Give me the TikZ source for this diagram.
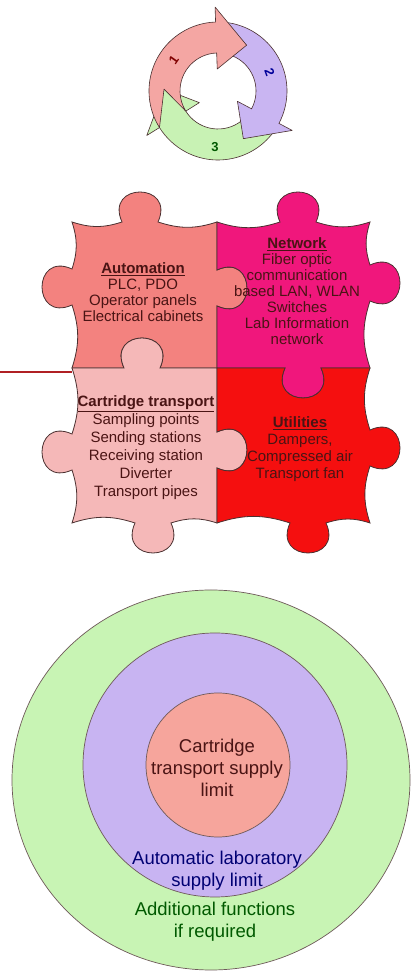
\documentclass[tikz,border=0pt]{standalone}
\usepackage{fontspec}
\setmainfont{Liberation Sans}
\definecolor{cyred}{HTML}{F4A6A3}
\definecolor{cypur}{HTML}{C9B5F2}
\definecolor{cygrn}{HTML}{C8F2B4}
\definecolor{pzsal}{HTML}{F3827F}
\definecolor{pzmag}{HTML}{F0177C}
\definecolor{pzpink}{HTML}{F5B8B8}
\definecolor{pzred}{HTML}{F50F0F}
\definecolor{cgreen}{HTML}{C8F4B4}
\definecolor{cpurple}{HTML}{C8B4F2}
\definecolor{csalmon}{HTML}{F6A59C}
\definecolor{edgec}{HTML}{4A3030}
\definecolor{ptxt}{HTML}{4A1414}
\definecolor{linered}{HTML}{B02024}
\begin{document}
\begin{tikzpicture}[x=1pt,y=1pt,
  cyc/.style={draw=edgec, line width=0.6pt, line join=round},
  piece/.style={draw=edgec, line width=0.8pt, line join=miter},
  ring/.style={draw=edgec!80, line width=0.7pt},
  ptext/.style={align=center, text=ptxt, font=\fontsize{15}{16}\selectfont, inner sep=0pt},
  ctext/.style={align=center, font=\fontsize{18.5}{22}\selectfont, inner sep=0pt},
  numlab/.style={font=\fontsize{13}{13}\selectfont\bfseries, inner sep=0pt}]
\useasboundingbox[fill=white] (0,0) rectangle (412,973);

% ---------- cycle ----------
\begin{scope}[shift={(218,882)}]
\draw[cyc, fill=cygrn] (332:69) arc[start angle=332, end angle=212, radius=69] -- (212:84) -- (178:54) -- (212:22) -- (212:38) arc[start angle=212, end angle=332, radius=38] -- (298:54) -- cycle;
\draw[cyc, fill=cypur] (92:69) arc[start angle=92, end angle=-28, radius=69] -- (-28:84) -- (-62:54) -- (-28:22) -- (-28:38) arc[start angle=-28, end angle=92, radius=38] -- (58:54) -- cycle;
\draw[cyc, fill=cyred] (212:69) arc[start angle=212, end angle=92, radius=69] -- (92:84) -- (58:54) -- (92:22) -- (92:38) arc[start angle=92, end angle=212, radius=38] -- (178:54) -- cycle;
\node[numlab, text=red!50!black, rotate=55] (n1) at (145:54) {1};
\node[numlab, text=blue!60!black, rotate=-70] (n2) at (20:55) {2};
\node[numlab, text=green!35!black] (n3) at (267:56) {3};
\end{scope}

% ---------- puzzle ----------
\draw[piece, fill=pzsal] (72,751) to[bend right=18] (122,751) .. controls (104,791) and (176,791) .. (158,751) to[bend right=18] (217,751) -- (217,703) .. controls (257,721) and (257,649) .. (217,667) -- (217,605) -- (160,605) .. controls (178,645) and (106,645) .. (124,605) -- (72,605) to[bend right=18] (72,668) .. controls (32,650) and (32,722) .. (72,704) to[bend right=18] (72,751) -- cycle;
\draw[piece, fill=pzmag] (217,751) to[bend right=18] (280,751) .. controls (262,791) and (334,791) .. (316,751) to[bend right=18] (370,751) to[bend right=18] (370,708) .. controls (410,726) and (410,654) .. (370,672) to[bend right=18] (370,605) -- (321,605) .. controls (339,565) and (267,565) .. (285,605) -- (217,605) -- (217,667) .. controls (257,649) and (257,721) .. (217,703) -- cycle;
\draw[piece, fill=pzpink] (72,605) -- (124,605) .. controls (106,645) and (178,645) .. (160,605) -- (217,605) -- (217,541) .. controls (257,559) and (257,487) .. (217,505) -- (217,450) to[bend right=18] (171,450) .. controls (189,410) and (117,410) .. (135,450) to[bend right=18] (72,450) to[bend right=18] (72,503) .. controls (32,485) and (32,557) .. (72,539) to[bend right=18] (72,605) -- cycle;
\draw[piece, fill=pzred] (217,605) -- (285,605) .. controls (267,565) and (339,565) .. (321,605) -- (370,605) to[bend right=18] (370,543) .. controls (410,561) and (410,489) .. (370,507) to[bend right=18] (370,450) to[bend right=18] (326,450) .. controls (344,410) and (272,410) .. (290,450) to[bend right=18] (217,450) -- (217,505) .. controls (257,487) and (257,559) .. (217,541) -- cycle;

\node[ptext] (auto) at (143,681) {\underline{\textbf{Automation}}\\PLC, PDO\\Operator panels\\Electrical cabinets};
\node[ptext] (net) at (297,682) {\underline{\textbf{Network}}\\Fiber optic\\communication\\based LAN, WLAN\\Switches\\Lab Information\\network};
\node[ptext, font=\fontsize{15}{18}\selectfont] (cart) at (146,525) {\underline{\textbf{Cartridge transport}}\\Sampling points\\Sending stations\\Receiving station\\Diverter\\Transport pipes};
\node[ptext, font=\fontsize{15}{17}\selectfont] (util) at (300,524) {\underline{\textbf{Utilities}}\\Dampers,\\Compressed air\\Transport fan};

\coordinate (lineend) at (0,601);
\coordinate (tlcorner) at (72,601);
\draw[linered, line width=1.3pt] (lineend) -- (tlcorner);

% ---------- circles ----------
\draw[ring, fill=cgreen] (211,193) ellipse[x radius=199, y radius=190];
\draw[ring, fill=cpurple] (215,208) circle[radius=132];
\draw[ring, fill=csalmon] (218,208) circle[radius=72];
\node[ctext, text=ptxt] (c1) at (217,205) {Cartridge\\transport supply\\limit};
\node[ctext, text=blue!45!black] (c2) at (217,102) {Automatic laboratory\\supply limit};
\node[ctext, text=green!35!black] (c3) at (215,51) {Additional functions\\if required};
\end{tikzpicture}
\end{document}
